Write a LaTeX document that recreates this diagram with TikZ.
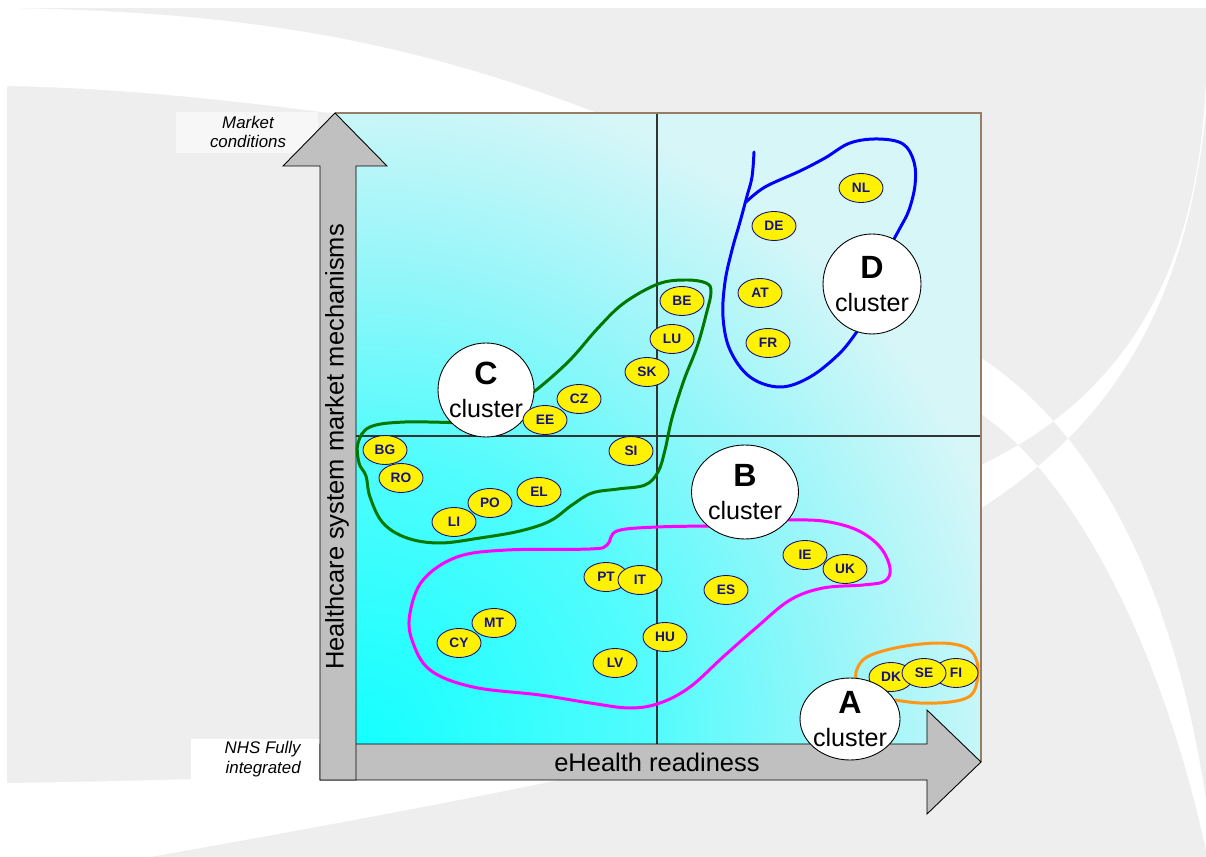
\documentclass[tikz,border=0pt]{standalone}
\usepackage{fontspec}
\setmainfont{Liberation Sans}
\usetikzlibrary{shapes.geometric}
\definecolor{bggray}{RGB}{238,238,238}
\definecolor{boxgray}{RGB}{247,247,247}
\definecolor{chartlo}{RGB}{20,255,255}
\definecolor{chartmid}{RGB}{80,252,253}
\definecolor{chartpale}{RGB}{150,246,249}
\definecolor{charthi}{RGB}{214,246,248}
\definecolor{arrowgray}{RGB}{192,192,192}
\definecolor{framebrown}{RGB}{150,125,100}
\definecolor{navy}{RGB}{20,20,128}
\definecolor{hullgreen}{RGB}{0,120,0}
\definecolor{hullpink}{RGB}{255,0,255}
\definecolor{hullblue}{RGB}{0,0,255}
\definecolor{hullorange}{RGB}{255,150,20}
% 25bp of the shading is stretched to the radius of the shaded circle
\pgfdeclareradialshading{chartglow}{\pgfpoint{0bp}{0bp}}{color(0bp)=(chartlo); color(6bp)=(chartmid);
    color(10bp)=(chartpale); color(14bp)=(charthi); color(50bp)=(charthi)}
\tikzset {
    country/.style={ellipse, draw=navy, fill=yellow, text=navy, inner sep=0pt, line width=0.5pt,
        minimum width=0.88cm, minimum height=0.58cm, font=\fontsize{7.8}{8}\selectfont\bfseries},
    cluster/.style={ellipse, draw=black, fill=white, inner sep=0pt, line width=0.5pt},
    clustertext/.style={align=center, inner sep=0pt, font=\fontsize{14.3}{19}\selectfont},
    bigarrow/.style={draw=black, fill=arrowgray, line width=0.5pt, line join=miter},
    axislabel/.style={inner sep=0pt, font=\fontsize{14.5}{17}\selectfont},
    cornerlabel/.style={inner sep=0pt, align=center, font=\fontsize{9.6}{11.3}\selectfont\itshape},
    gridline/.style={draw=black!80, line width=0.6pt},
    hull/.style={line width=1.7pt, smooth, tension=0.6, line cap=round}
}

\begin{document}
\begin{tikzpicture}[x=0.02cm, y=-0.02cm]
    \useasboundingbox (0,0) rectangle (1206,857);
    \fill[white] (0,0) rectangle (1206,857);
    \fill[bggray] (7,8) rectangle (1206,857);

    % white swooshes behind the chart
    \fill[white] (7,8) .. controls (250,12) and (420,40) .. (640,130) -- (345,130) -- (345,115)
        .. controls (230,100) and (120,88) .. (7,86) -- cycle;
    \fill[white, even odd rule] (1206,80) .. controls (1198,280) and (1120,400) .. (975,468) -- (975,512)
        .. controls (1090,440) and (1185,330) .. (1206,110) -- cycle
        (975,354) .. controls (1080,420) and (1170,560) .. (1206,800) -- (1206,850)
        .. controls (1160,640) and (1070,470) .. (975,410) -- cycle;
    \fill[white] (7,783) .. controls (150,781) and (300,777) .. (450,768) -- (650,760)
        .. controls (520,790) and (330,825) .. (150,857) -- (7,857) -- cycle;

    % corner labels
    \fill[boxgray] (176,112) rectangle (318,153);
    \fill[white] (191,739) rectangle (320,780);
    \node[cornerlabel] (mkt) at (248,132) {Market\\conditions};
    \node[cornerlabel, align=right, anchor=east] (nhs) at (301,759) {NHS Fully\\integrated};

    % chart area
    \begin{scope}
        \clip (337,113) rectangle (981,762);
        \shade[shading=chartglow] (356,745) circle[radius=24cm];
    \end{scope}
    \draw[gridline] (657,113) -- (657,745);
    \draw[gridline] (356,436) -- (981,436);
    \draw[framebrown, line width=1pt] (335,113) -- (981,113) -- (981,762);

    % axes
    \draw[bigarrow] (320,744) -- (927,744) -- (927,710) -- (981,762) -- (927,814) -- (927,780) -- (320,780) -- cycle;
    \draw[bigarrow] (320,780) -- (320,166) -- (283,166) -- (335,113) -- (387,166) -- (356,166) -- (356,780) -- cycle;
    \node[axislabel] (xlab) at (657,762) {eHealth readiness};
    \node[axislabel, rotate=90] (ylab) at (337,447) {Healthcare system market mechanisms};

    % cluster outlines
    \draw[hull, draw=hullgreen] plot coordinates {(462,423) (405,422) (370,427) (358,443) (359,463) (366,476)
        (370,497) (383,523) (407,538) (440,543) (480,538) (520,531) (550,521) (572,505) (592,493)
        (618,489) (645,485) (658,472) (665,450) (672,418) (684,380) (697,347) (706,315) (711,292)
        (706,283) (685,280) (658,284) (624,303) (598,328) (570,360) (540,387) (525,397)};
    \draw[hull, draw=hullpink] plot coordinates {(715,526) (657,527) (617,531) (607,545) (590,549) (507,550)
        (457,557) (423,580) (410,613) (412,640) (430,670) (473,687) (540,695) (590,703) (630,708)
        (660,703) (690,687) (723,657) (757,627) (790,600) (823,588) (863,585) (885,581) (890,568)
        (880,547) (857,530) (823,521) (785,520)};
    \draw[hull, draw=hullblue] plot coordinates {(754,152) (752,177) (747,196) (740,222) (732,250) (725,282)
        (723,317) (730,350) (750,377) (780,387) (810,377) (840,353) (858,330)};
    \draw[hull, draw=hullblue] plot coordinates {(746,202) (765,187) (800,171) (825,158) (850,143) (878,139)
        (903,144) (914,162) (915,185) (909,210) (900,228) (890,246)};
    \draw[hull, draw=hullorange] plot coordinates {(858,684) (856,672) (867,657) (900,647) (940,643)
        (967,648) (977,662) (977,682) (970,696) (950,702) (920,703) (895,700)};

    % clusters
    \node[cluster, minimum width=2.14cm, minimum height=1.88cm] (clB) at (745,492) {};
    \node[clustertext] (clBtxt) at (clB) {{\fontsize{18.3}{19}\selectfont\bfseries B}\\cluster};
    \node[cluster, minimum width=1.92cm, minimum height=1.88cm] (clC) at (486,390) {};
    \node[clustertext] (clCtxt) at (clC) {{\fontsize{18.3}{19}\selectfont\bfseries C}\\cluster};
    \node[cluster, minimum width=1.96cm, minimum height=2.0cm] (clD) at (872,284) {};
    \node[clustertext] (clDtxt) at (clD) {{\fontsize{18.3}{19}\selectfont\bfseries D}\\cluster};

    % countries
    \node[country] (nl) at (861,188) {NL};
    \node[country] (de) at (774,226) {DE};
    \node[country] (at) at (760,293) {AT};
    \node[country] (fr) at (768,343) {FR};
    \node[country] (be) at (682,301) {BE};
    \node[country] (lu) at (672,339) {LU};
    \node[country] (sk) at (647,372) {SK};
    \node[country] (cz) at (579,399) {CZ};
    \node[country] (ee) at (545,420) {EE};
    \node[country] (bg) at (385,450) {BG};
    \node[country] (ro) at (401,478) {RO};
    \node[country] (si) at (631,451) {SI};
    \node[country] (el) at (539,492) {EL};
    \node[country] (li) at (454,522) {LI};
    \node[country] (po) at (490,503) {PO};
    \node[country] (ie) at (805,555) {IE};
    \node[country] (uk) at (845,569) {UK};
    \node[country] (pt) at (606,577) {PT};
    \node[country] (it) at (640,580) {IT};
    \node[country] (es) at (726,590) {ES};
    \node[country] (mt) at (494,623) {MT};
    \node[country] (cy) at (459,643) {CY};
    \node[country] (hu) at (665,637) {HU};
    \node[country] (lv) at (615,663) {LV};
    \node[country] (dk) at (891,677) {DK};
    \node[country] (fi) at (956,673) {FI};
    \node[country] (se) at (924,673) {SE};

    \node[cluster, minimum width=2.0cm, minimum height=1.64cm] (clA) at (850,719) {};
    \node[clustertext] (clAtxt) at (clA) {{\fontsize{18.3}{19}\selectfont\bfseries A}\\cluster};
\end{tikzpicture}
\end{document}
